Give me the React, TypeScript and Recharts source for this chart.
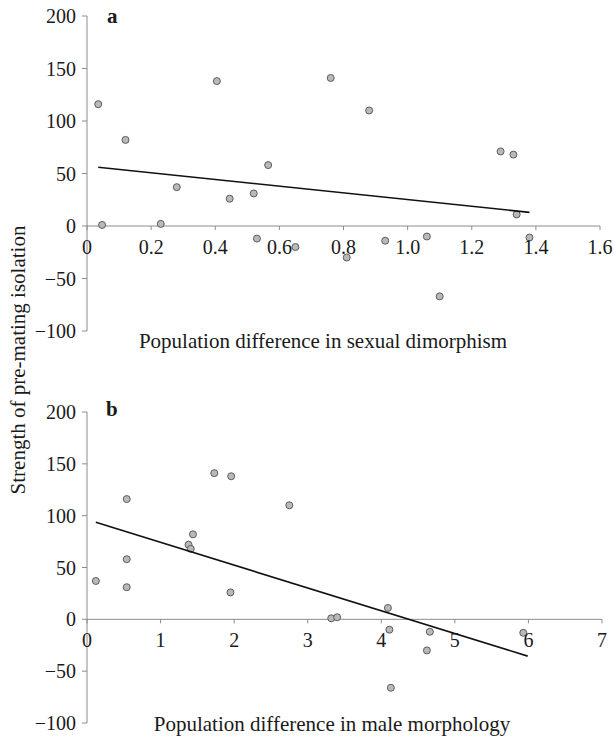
import React from 'react'
import { ScatterChart, Scatter, XAxis, YAxis, ReferenceLine } from 'recharts'

// panel a: population difference in sexual dimorphism vs strength of pre-mating isolation
const dimorphismX = [0.035, 0.047, 0.12, 0.23, 0.28, 0.405, 0.445, 0.52, 0.53, 0.565, 0.65, 0.76, 0.81, 0.88, 0.93, 1.06, 1.1, 1.29, 1.33, 1.34, 1.38]
const isolationA = [116, 1, 82, 2, 37, 138, 26, 31, -12, 58, -20, 141, -30, 110, -14, -10, -67, 71, 68, 11, -11]
const trendAX = [0.035, 1.38]
const trendAY = [56, 13]

// panel b: population difference in male morphology
const morphologyX = [0.12, 0.54, 0.54, 0.54, 1.38, 1.41, 1.44, 1.73, 1.96, 1.95, 2.75, 3.32, 3.4, 4.09, 4.11, 4.13, 4.62, 4.66, 5.93]
const isolationB = [37, 116, 58, 31, 72, 68, 82, 141, 138, 26, 110, 1, 2, 11, -10, -66, -30, -12, -13]
const trendBX = [0.12, 5.99]
const trendBY = [93.6, -35.5]

const ticksA = [0, 0.2, 0.4, 0.6, 0.8, 1.0, 1.2, 1.4, 1.6]
const ticksB = [0, 1, 2, 3, 4, 5, 6, 7]
const yTicks = [-100, -50, 0, 50, 100, 150, 200]

const FONT = "'Liberation Serif', 'Times New Roman', serif"
const AXIS = '#8c8c8c'
const TEXT = '#1a1a1a'
const Y_MIN = -100
const Y_MAX = 200

const zip = (xs: number[], ys: number[]) => xs.map((x, i) => ({ x, y: ys[i] }))

const fmtY = (v: number) => (v < 0 ? '\u2212' + Math.abs(v) : String(v))

function Dot(props: any) {
  const { cx, cy } = props
  if (cx == null || cy == null) return <g />
  return <circle cx={cx} cy={cy} r={3.5} fill="#b9b9b9" stroke="#5c5c5c" strokeWidth={1} />
}

const Nothing = () => <g />

// x axis crosses at y = 0, so ticks are drawn relative to the zero line
function makeTick(zeroY: number, fmt: (v: number) => string) {
  return function Tick(props: any) {
    const { x, payload } = props
    return (
      <g>
        <line x1={x} x2={x} y1={zeroY} y2={zeroY + 4} stroke={AXIS} />
        <text x={x} y={zeroY + 28} textAnchor="middle" style={{ fontFamily: FONT }} fontSize={20} fill={TEXT}>
          {fmt(payload.value)}
        </text>
      </g>
    )
  }
}

interface PanelProps {
  top: number
  plotTop: number
  plotH: number
  right: number
  data: { x: number; y: number }[]
  trend: { x: number; y: number }[]
  xMax: number
  xTicks: number[]
  fmtX: (v: number) => string
}

function Panel({ top, plotTop, plotH, right, data, trend, xMax, xTicks, fmtX }: PanelProps) {
  const height = 370
  const zeroY = plotTop + (plotH * Y_MAX) / (Y_MAX - Y_MIN)
  return (
    <div style={{ position: 'absolute', left: 0, top }}>
      <ScatterChart
        width={614}
        height={height}
        style={{ fontFamily: FONT }}
        margin={{ top: plotTop, right, bottom: height - plotTop - plotH - 1, left: 0 }}
      >
        <XAxis
          type="number"
          dataKey="x"
          domain={[0, xMax]}
          ticks={xTicks}
          height={1}
          axisLine={false}
          tickLine={false}
          tick={makeTick(zeroY, fmtX)}
          interval={0}
        />
        <YAxis
          type="number"
          dataKey="y"
          domain={[Y_MIN, Y_MAX]}
          ticks={yTicks}
          width={87}
          interval={0}
          axisLine={{ stroke: AXIS }}
          tickLine={{ stroke: AXIS }}
          tickSize={5}
          tickMargin={6}
          tickFormatter={fmtY}
          tick={{ fontFamily: FONT, fontSize: 20, fill: TEXT, style: { fontFamily: FONT } }}
        />
        <ReferenceLine y={0} stroke={AXIS} strokeWidth={1} />
        <Scatter data={data} shape={Dot} isAnimationActive={false} />
        <Scatter data={trend} shape={Nothing} line={{ stroke: '#111', strokeWidth: 1.6 }} isAnimationActive={false} />
      </ScatterChart>
    </div>
  )
}

export default function App() {
  return (
    <div style={{ position: 'absolute', left: 0, top: 0, width: 614, height: 740, background: '#fff', fontFamily: FONT }}>
      <Panel
        top={0}
        plotTop={16}
        plotH={315}
        right={14}
        data={zip(dimorphismX, isolationA)}
        trend={zip(trendAX, trendAY)}
        xMax={1.6}
        xTicks={ticksA}
        fmtX={(v) => (v === 0 ? '0' : v.toFixed(1))}
      />
      <Panel
        top={370}
        plotTop={42}
        plotH={311}
        right={12}
        data={zip(morphologyX, isolationB)}
        trend={zip(trendBX, trendBY)}
        xMax={7}
        xTicks={ticksB}
        fmtX={(v) => String(v)}
      />
      <svg width={614} height={740} style={{ position: 'absolute', left: 0, top: 0, pointerEvents: 'none' }}>
        <g style={{ fontFamily: FONT }} fill={TEXT}>
          <text x={107} y={23} fontSize={21} fontWeight="bold">a</text>
          <text x={106} y={416} fontSize={21} fontWeight="bold">b</text>
          <text x={323} y={348} fontSize={21} textAnchor="middle">Population difference in sexual dimorphism</text>
          <text x={332} y={731} fontSize={21} textAnchor="middle">Population difference in male morphology</text>
          <text x={25} y={360} fontSize={21} textAnchor="middle" transform="rotate(-90 25 360)">
            Strength of pre-mating isolation
          </text>
        </g>
      </svg>
    </div>
  )
}
